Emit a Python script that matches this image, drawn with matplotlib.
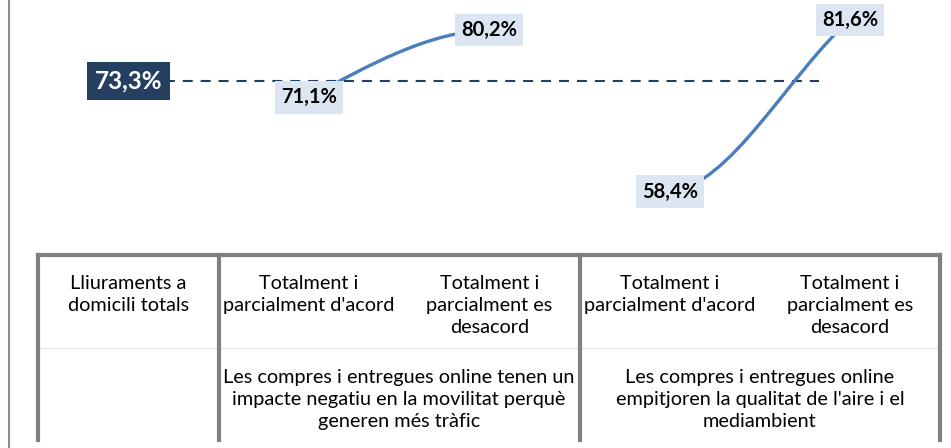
"""
Gràfic: percepció de l'impacte dels lliuraments a domicili.
Línia suavitzada per grup + línia discontínua del total, i taula de categories a sota.
"""

import matplotlib.pyplot as plt
from matplotlib.path import Path
from matplotlib.patches import PathPatch
from matplotlib.lines import Line2D

plt.rcParams['font.family'] = ['Lato', 'DejaVu Sans']

# Dades
categories = [
    "Lliuraments a\ndomicili totals",
    "Totalment i\nparcialment d'acord",
    "Totalment i\nparcialment es\ndesacord",
    "Totalment i\nparcialment d'acord",
    "Totalment i\nparcialment es\ndesacord",
]
grups = [
    "",
    "Les compres i entregues online tenen un\nimpacte negatiu en la movilitat perquè\ngeneren més tràfic",
    "Les compres i entregues online\nempitjoren la qualitat de l'aire i el\nmediambient",
]
mida_grups = [1, 2, 2]
total = 73.3
valors = [None, 71.1, 80.2, 58.4, 81.6]
trams = [(1, 2), (3, 4)]  # parells de categories unides per la línia

# Estils
BLAU = '#4A7EBB'
FONS_ETIQ = '#DCE6F2'
NAVY = '#243F60'
GRIS = '#808080'

W, H = 951, 448
fig = plt.figure(figsize=(W / 100, H / 100), dpi=100)

# Zona del gràfic
ax = fig.add_axes([38.3 / W, 1 - 253 / H, 902 / W, 253 / H])
ax.set_xlim(-0.5, 4.5)
ax.set_ylim(50.1, 84.26)
ax.axis('off')

# Línia del total
ax.plot([0, 3.83], [total, total], color=NAVY, lw=1.5, dashes=(4.8, 3.8), zorder=1)
ax.text(0, total, "73,3%", ha='center', va='center', fontsize=17.5, fontweight='bold',
        color='white', zorder=5,
        bbox=dict(boxstyle='square,pad=0.3', fc=NAVY, ec='none'))

# Trams suavitzats (bezier cúbica)
pendents = {(1, 2): (1.45, 0.07), (3, 4): (0.08, 0.92)}
for i, j in trams:
    x0, y0, x1, y1 = i, valors[i], j, valors[j]
    dy = y1 - y0
    f0, f1 = pendents[(i, j)]
    verts = [(x0, y0), (x0 + 1 / 3, y0 + f0 * dy / 3),
             (x1 - 1 / 3, y1 - f1 * dy / 3), (x1, y1)]
    codes = [Path.MOVETO, Path.CURVE4, Path.CURVE4, Path.CURVE4]
    ax.add_patch(PathPatch(Path(verts, codes), fc='none', ec=BLAU, lw=2.4,
                           capstyle='round', zorder=2))

for k, v in enumerate(valors):
    if v is None:
        continue
    ax.text(k, v, f"{v:.1f}%".replace('.', ','), ha='center', va='center',
            fontsize=14.5, fontweight='bold', color='black', zorder=5,
            bbox=dict(boxstyle='square,pad=0.3', fc=FONS_ETIQ, ec='none'))

# Taula de categories (coordenades verticals en píxels des de dalt)
tab = fig.add_axes([38.3 / W, 0, 902 / W, 1 - 253 / H])
tab.set_xlim(-0.5, 4.5)
tab.set_ylim(448, 253)
tab.axis('off')

tab.plot([-0.5, 4.5], [255, 255], color=GRIS, lw=3, solid_capstyle='projecting', clip_on=False)
tab.plot([-0.5, 4.5], [348, 348], color='#E6E6E6', lw=1, clip_on=False)

vora = -0.5
tab.plot([vora, vora], [255, 440], color=GRIS, lw=3, clip_on=False)
for nom, n in zip(grups, mida_grups):
    centre = vora + n / 2
    if nom:
        tab.text(centre, 369, nom, ha='center', va='top', fontsize=14.3, linespacing=1.34)
    vora += n
    tab.plot([vora, vora], [255, 440], color=GRIS, lw=3, clip_on=False)

for k, cat in enumerate(categories):
    tab.text(k, 275, cat, ha='center', va='top', fontsize=14.3, linespacing=1.34)

# Línia vertical de l'esquerra
fig.add_artist(Line2D([9 / W, 9 / W], [0, 1], color='#8C8C8C', lw=1.5,
                      transform=fig.transFigure))

fig.savefig('out.png', dpi=100)
